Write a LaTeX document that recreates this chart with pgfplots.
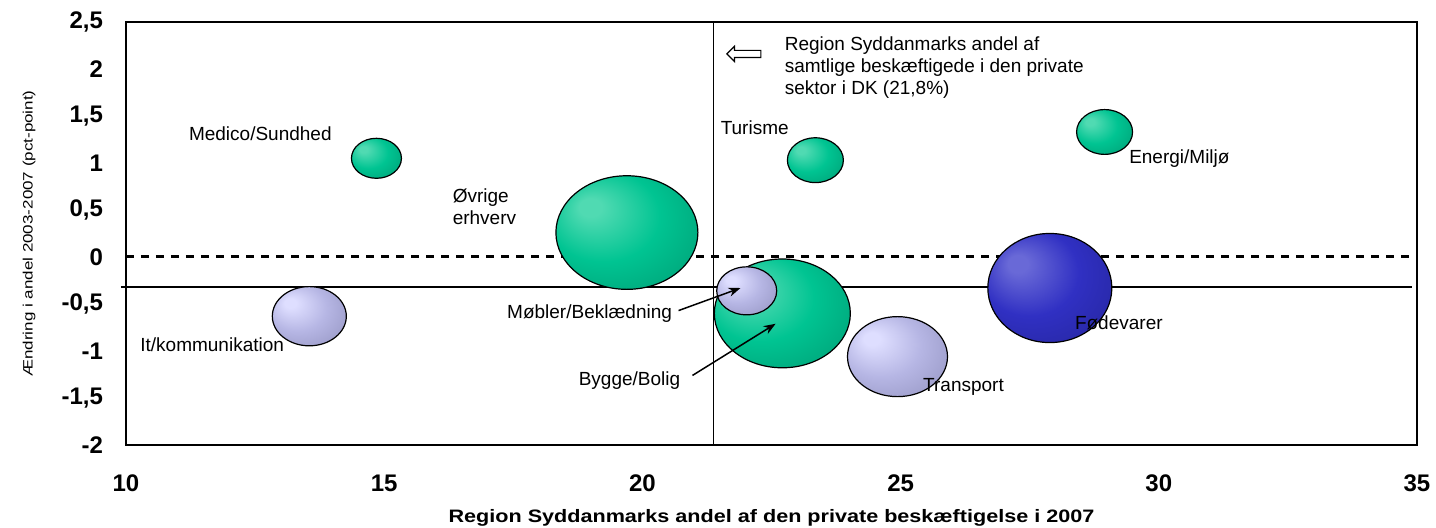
\documentclass[border=0pt]{standalone}
\usepackage{fontspec}
\setmainfont{Liberation Sans}
\usepackage{pgfplots}
\pgfplotsset{compat=1.18}
\usepackage{pgfplotstable}
\usetikzlibrary{arrows.meta,shapes.arrows}

\definecolor{gHL}{RGB}{80,218,178}
\definecolor{gBody}{RGB}{0,196,146}
\definecolor{gMid}{RGB}{0,160,118}
\definecolor{gRim}{RGB}{0,112,82}
\definecolor{lHL}{RGB}{222,222,255}
\definecolor{lBody}{RGB}{182,182,228}
\definecolor{lMid}{RGB}{150,150,195}
\definecolor{lRim}{RGB}{108,108,148}
\definecolor{bHL}{RGB}{105,105,215}
\definecolor{bBody}{RGB}{48,48,195}
\definecolor{bMid}{RGB}{38,38,160}
\definecolor{bRim}{RGB}{25,25,112}

\pgfdeclareradialshading{gshade}{\pgfpoint{-14bp}{12bp}}{color(0bp)=(gHL); color(4bp)=(gHL); color(20bp)=(gBody); color(38bp)=(gMid); color(50bp)=(gRim)}
\pgfdeclareradialshading{lshade}{\pgfpoint{-14bp}{12bp}}{color(0bp)=(lHL); color(4bp)=(lHL); color(20bp)=(lBody); color(38bp)=(lMid); color(50bp)=(lRim)}
\pgfdeclareradialshading{bshade}{\pgfpoint{-14bp}{12bp}}{color(0bp)=(bHL); color(4bp)=(bHL); color(20bp)=(bBody); color(38bp)=(bMid); color(50bp)=(bRim)}

\pgfdeclareplotmark{gball}{\pgfpathellipse{\pgfpointorigin}{\pgfqpoint{\pgfplotmarksize}{0pt}}{\pgfqpoint{0pt}{0.8\pgfplotmarksize}}\pgfshadepath{gshade}{0}\pgfusepathqstroke}
\pgfdeclareplotmark{lball}{\pgfpathellipse{\pgfpointorigin}{\pgfqpoint{\pgfplotmarksize}{0pt}}{\pgfqpoint{0pt}{0.8\pgfplotmarksize}}\pgfshadepath{lshade}{0}\pgfusepathqstroke}
\pgfdeclareplotmark{bball}{\pgfpathellipse{\pgfpointorigin}{\pgfqpoint{\pgfplotmarksize}{0pt}}{\pgfqpoint{0pt}{0.88\pgfplotmarksize}}\pgfshadepath{bshade}{0}\pgfusepathqstroke}

\pgfplotstableread{
x y r
14.85 1.05 12.5
19.70 0.26 35.5
23.35 1.03 14
28.95 1.33 14
22.71 -0.60 34
}\tabG
\pgfplotstableread{
x y r
13.55 -0.63 18.5
22.02 -0.36 15
24.94 -1.06 25
}\tabL
\pgfplotstableread{
x y r
27.89 -0.33 31
}\tabB

\newcommand\lbl{\fontsize{9.5}{11}\selectfont}

\pgfplotsset{bubble/.style={scatter, only marks, mark=#1,
  scatter/use mapped color={draw=black},
  mark options={draw=black, line width=0.6pt},
  point meta=\thisrow{r},
  visualization depends on={\thisrow{r} \as \rr},
  scatter/@pre marker code/.append style={/tikz/mark size=\rr}}}

\begin{document}
\begin{tikzpicture}
\path[use as bounding box] (-63pt,-41.5pt) rectangle (655pt,222.5pt);
\begin{axis}[
  scale only axis, width=645.5pt, height=211.5pt,
  at={(0,0)}, anchor=south west,
  xmin=10, xmax=35, ymin=-2, ymax=2.5,
  xtick={10,15,20,25,30,35},
  ytick={-2,-1.5,-1,-0.5,0,0.5,1,1.5,2,2.5},
  major tick length=0pt,
  axis line style={line width=0.8pt},
  tick label style={font=\bfseries\fontsize{12}{14}\selectfont,
    /pgf/number format/assume math mode=true,
    /pgf/number format/use comma},
  xticklabel style={anchor=base, yshift=-23.5pt},
  yticklabel style={anchor=east, xshift=-8pt},
  clip=false,
  after end axis/.code={
    \node[anchor=east, inner sep=0, font=\lbl] at (axis cs:13.99,1.31) {Medico/Sundhed};
    \node[anchor=west, inner sep=0, align=left, font=\lbl] at (axis cs:16.32,0.53) {Øvrige\\erhverv};
    \node[anchor=west, inner sep=0, font=\lbl] at (axis cs:21.51,1.38) {Turisme};
    \node[anchor=west, inner sep=0, font=\lbl] at (axis cs:29.42,1.05) {Energi/Miljø};
    \node[anchor=west, inner sep=0, font=\lbl] at (axis cs:10.27,-0.93) {It/kommunikation};
    \node[anchor=east, inner sep=0, font=\lbl] at (axis cs:20.58,-0.60) {Møbler/Beklædning};
    \node[anchor=east, inner sep=0, font=\lbl] at (axis cs:20.74,-1.31) {Bygge/Bolig};
    \node[anchor=west, inner sep=0, font=\lbl] at (axis cs:25.43,-1.38) {Transport};
    \node[anchor=west, inner sep=0, font=\lbl] at (axis cs:28.37,-0.70) {Fødevarer};
    \draw[-{Stealth[length=6pt,width=4.5pt]}, line width=0.75pt] (axis cs:20.70,-0.57) -- (axis cs:21.90,-0.33);
    \draw[-{Stealth[length=6pt,width=4.5pt]}, line width=0.75pt] (axis cs:20.97,-1.26) -- (axis cs:22.58,-0.71);
    \node[anchor=west, align=left, inner sep=0, font=\lbl] at (axis cs:22.75,2.02) {Region Syddanmarks andel af\\samtlige beskæftigede i den private\\sektor i DK (21,8\%)};
    \node[single arrow, draw, fill=white, shape border rotate=180, minimum height=17pt, minimum width=7pt, inner sep=1.5pt, single arrow head extend=2pt, line width=0.6pt] at (axis cs:22.0,2.16) {};
    \node[rotate=90] at ([xshift=-48.5pt]rel axis cs:0,0.5) {\scalebox{1.25}[1]{\fontsize{6.8}{8}\selectfont Ændring i andel 2003-2007 (pct-point)}};
    \node[anchor=base] at ([yshift=-39pt]rel axis cs:0.5,0) {\scalebox{1.2}[1]{\bfseries\fontsize{9}{11}\selectfont Region Syddanmarks andel af den private beskæftigelse i 2007}};
  },
]
\addplot[black, line width=1.5pt, dash pattern=on 4pt off 3.5pt] coordinates {(10,0) (35,0)};
\addplot[black, line width=0.75pt] coordinates {(21.38,-2) (21.38,2.5)};
\addplot[black, line width=0.75pt] coordinates {(9.9,-0.32) (34.9,-0.32)};

\addplot[bubble=gball] table[x=x,y=y] {\tabG};
\addplot[bubble=lball] table[x=x,y=y] {\tabL};
\addplot[bubble=bball] table[x=x,y=y] {\tabB};
\end{axis}
\end{tikzpicture}
\end{document}
